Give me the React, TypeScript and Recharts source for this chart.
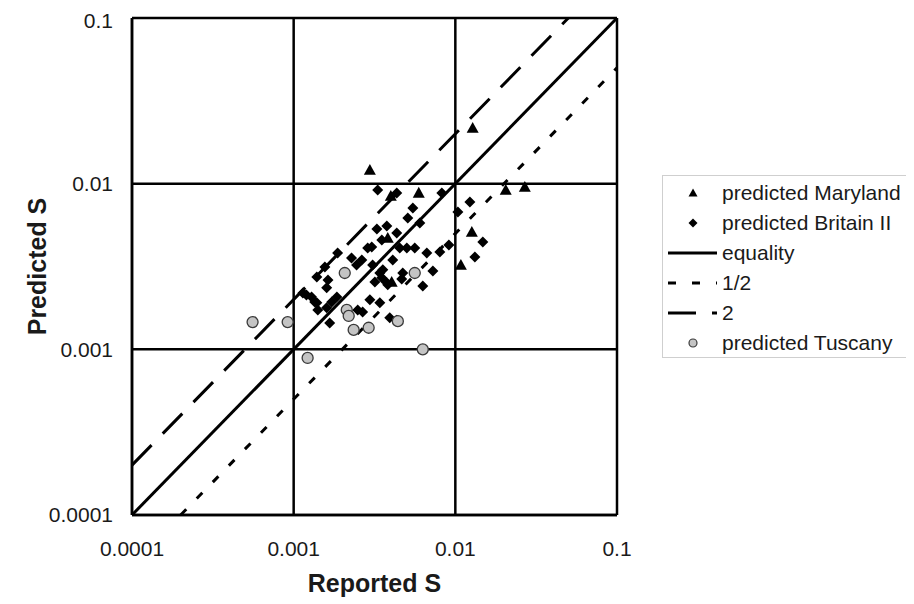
import React from "react";
import {
  ScatterChart,
  Scatter,
  XAxis,
  YAxis,
  CartesianGrid,
  ReferenceLine,
  Legend,
} from "recharts";

// ---------- data ----------
const AXIS_TICKS = [0.0001, 0.001, 0.01, 0.1];
const TICK_LABELS = ["0.0001", "0.001", "0.01", "0.1"];

const MARYLAND_X = [0.00296, 0.0128, 0.00594, 0.00399, 0.01265, 0.01082, 0.0205, 0.0269, 0.00382, 0.00404];
const MARYLAND_Y = [0.0121, 0.0217, 0.0088, 0.00843, 0.00511, 0.00323, 0.00917, 0.00955, 0.0047, 0.00255];

const BRITAIN_X = [
  0.00331, 0.00434, 0.00327, 0.00377, 0.00434, 0.00187, 0.00287, 0.00825, 0.00546, 0.00508,
  0.00603, 0.0123, 0.01037, 0.01479, 0.00453, 0.00501, 0.00561, 0.00666, 0.00802, 0.00912,
  0.01321, 0.00473, 0.00466, 0.00726, 0.00629, 0.00156, 0.00139, 0.00163, 0.00245, 0.00264,
  0.00308, 0.00341, 0.00318, 0.00377, 0.0041, 0.00114, 0.00129, 0.00139, 0.00141, 0.0016,
  0.00172, 0.00185, 0.00296, 0.00341, 0.00167, 0.00249, 0.00267, 0.00393, 0.00434, 0.00228,
  0.00351, 0.00304, 0.00356, 0.00351, 0.00382, 0.0016, 0.0012, 0.00135,
];
const BRITAIN_Y = [
  0.00916, 0.00879, 0.00533, 0.00556, 0.00504, 0.00382, 0.00409, 0.00879, 0.00714, 0.00621,
  0.00579, 0.00776, 0.00675, 0.00445, 0.00409, 0.00409, 0.00409, 0.00382, 0.00387, 0.00427,
  0.00361, 0.00289, 0.00266, 0.00297, 0.00241, 0.00314, 0.00273, 0.00262, 0.00323, 0.00346,
  0.00323, 0.00289, 0.00255, 0.00252, 0.00346, 0.00219, 0.00207, 0.00191, 0.00173, 0.00178,
  0.00193, 0.00207, 0.00199, 0.00191, 0.00144, 0.00173, 0.00168, 0.00155, 0.0015, 0.00356,
  0.00457, 0.00415, 0.00302, 0.0027, 0.00245, 0.00235, 0.00213, 0.00193,
];

const TUSCANY_X = [0.000557, 0.000918, 0.00207, 0.00213, 0.00219, 0.00235, 0.00291, 0.00441, 0.00561, 0.00629, 0.00122];
const TUSCANY_Y = [0.00146, 0.00146, 0.00289, 0.00173, 0.00159, 0.00131, 0.00135, 0.00148, 0.00289, 0.001, 0.000887];

const EQUALITY_LINE = [
  { x: 0.0001, y: 0.0001 },
  { x: 0.1, y: 0.1 },
];
const HALF_LINE = [
  { x: 0.0002, y: 0.0001 },
  { x: 0.1, y: 0.05 },
];
const DOUBLE_LINE = [
  { x: 0.0001, y: 0.0002 },
  { x: 0.05, y: 0.1 },
];

const LEGEND_LABELS = ["predicted Maryland", "predicted Britain II", "equality", "1/2", "2", "predicted Tuscany"];

const zip = (xs: number[], ys: number[]) => xs.map((x, i) => ({ x, y: ys[i] }));
const marylandData = zip(MARYLAND_X, MARYLAND_Y);
const britainData = zip(BRITAIN_X, BRITAIN_Y);
const tuscanyData = zip(TUSCANY_X, TUSCANY_Y);

// ---------- styles ----------
const FONT = "'Liberation Sans', Arial, sans-serif";
const SHORT_DASH = "8 15";
const LONG_DASH = "28 16";
const LINE_W = 3;

const Triangle = (props: any) => {
  const { cx, cy } = props;
  if (cx == null || cy == null) return null;
  const s = 6;
  return <path d={`M${cx},${cy - s} L${cx + s},${cy + s * 0.8} L${cx - s},${cy + s * 0.8} Z`} fill="#000" />;
};
const Diamond = (props: any) => {
  const { cx, cy } = props;
  if (cx == null || cy == null) return null;
  const s = 5.5;
  return <path d={`M${cx},${cy - s} L${cx + s},${cy} L${cx},${cy + s} L${cx - s},${cy} Z`} fill="#000" />;
};
const Dot = (props: any) => {
  const { cx, cy } = props;
  if (cx == null || cy == null) return null;
  return <circle cx={cx} cy={cy} r={5.5} fill="#c4c4c4" stroke="#3a3a3a" strokeWidth={1.3} />;
};

const LegendIcon = ({ kind }: { kind: number }) => {
  const w = 56;
  const h = 30;
  const cy = h / 2;
  let el: React.ReactNode = null;
  if (kind === 0) el = <path d={`M30,${cy - 4.5} L34.5,${cy + 3.5} L25.5,${cy + 3.5} Z`} fill="#000" />;
  if (kind === 1) el = <path d={`M30,${cy - 4.5} L34.5,${cy} L30,${cy + 4.5} L25.5,${cy} Z`} fill="#000" />;
  if (kind === 2) el = <line x1={5} x2={54} y1={cy} y2={cy} stroke="#000" strokeWidth={LINE_W} />;
  if (kind === 3) el = <line x1={5} x2={54} y1={cy} y2={cy} stroke="#000" strokeWidth={LINE_W} strokeDasharray="8 16" />;
  if (kind === 4) el = <line x1={5} x2={54} y1={cy} y2={cy} stroke="#000" strokeWidth={LINE_W} strokeDasharray="28 16" />;
  if (kind === 5) el = <circle cx={30} cy={cy} r={4} fill="#c4c4c4" stroke="#3a3a3a" strokeWidth={1.2} />;
  return (
    <svg width={w} height={h} style={{ display: "block", flex: "none" }}>
      {el}
    </svg>
  );
};

const LegendContent = () => (
  <div
    style={{
      border: "1.5px solid #cfcfcf",
      boxSizing: "border-box",
      width: 252,
      height: 183,
      padding: "2px 0 0 0",
      background: "#fff",
      fontFamily: FONT,
      fontSize: 21,
      color: "#1a1a1a",
    }}
  >
    {LEGEND_LABELS.map((label, i) => (
      <div key={label} style={{ display: "flex", alignItems: "center", height: 30 }}>
        <LegendIcon kind={i} />
        <span style={{ marginLeft: 3, whiteSpace: "nowrap", lineHeight: "30px" }}>{label}</span>
      </div>
    ))}
  </div>
);

const XLabel = (props: any) => {
  const vb = props.viewBox || {};
  return (
    <text
      x={vb.x + vb.width / 2}
      y={vb.y + 77}
      textAnchor="middle"
      fontFamily={FONT}
      fontWeight="bold"
      fontSize={25}
      fill="#1a1a1a"
    >
      Reported S
    </text>
  );
};

const YLabel = (props: any) => {
  const vb = props.viewBox || {};
  const cx = 29;
  const cy = vb.y + vb.height / 2;
  return (
    <text
      x={cx}
      y={cy}
      transform={`rotate(-90, ${cx}, ${cy})`}
      textAnchor="middle"
      dominantBaseline="central"
      fontFamily={FONT}
      fontWeight="bold"
      fontSize={25}
      fill="#1a1a1a"
    >
      Predicted S
    </text>
  );
};

const tickStyle = { fontFamily: FONT, fontSize: 21, fill: "#1a1a1a" };

export default function App() {
  return (
    <ScatterChart width={906} height={596} margin={{ top: 10, right: 297, bottom: 0, left: 0 }}>
      <CartesianGrid stroke="#000" strokeWidth={2.5} strokeDasharray="" />
      <XAxis
        type="number"
        dataKey="x"
        scale="log"
        domain={[0.0001, 0.1]}
        ticks={AXIS_TICKS}
        allowDataOverflow
        tickFormatter={(v: number) => TICK_LABELS[AXIS_TICKS.indexOf(v)] ?? String(v)}
        tick={tickStyle}
        tickLine={false}
        tickMargin={20}
        axisLine={{ stroke: "#000", strokeWidth: 2.5 }}
        height={89}
        label={<XLabel />}
      />
      <YAxis
        type="number"
        dataKey="y"
        scale="log"
        domain={[0.0001, 0.1]}
        ticks={AXIS_TICKS}
        allowDataOverflow
        tickFormatter={(v: number) => TICK_LABELS[AXIS_TICKS.indexOf(v)] ?? String(v)}
        tick={tickStyle}
        tickLine={false}
        tickMargin={13}
        axisLine={{ stroke: "#000", strokeWidth: 2.5 }}
        width={124}
        label={<YLabel />}
      />
      <ReferenceLine segment={EQUALITY_LINE} stroke="#000" strokeWidth={LINE_W} ifOverflow="visible" />
      <ReferenceLine segment={HALF_LINE} stroke="#000" strokeWidth={LINE_W} strokeDasharray={SHORT_DASH} ifOverflow="visible" />
      <ReferenceLine segment={DOUBLE_LINE} stroke="#000" strokeWidth={LINE_W} strokeDasharray={LONG_DASH} ifOverflow="visible" />
      <Scatter name={LEGEND_LABELS[0]} data={marylandData} shape={<Triangle />} isAnimationActive={false} />
      <Scatter name={LEGEND_LABELS[1]} data={britainData} shape={<Diamond />} isAnimationActive={false} />
      <Scatter name={LEGEND_LABELS[5]} data={tuscanyData} shape={<Dot />} isAnimationActive={false} />
      <Legend
        layout="vertical"
        align="center"
        verticalAlign="middle"
        content={<LegendContent />}
        wrapperStyle={{ left: 654, top: 167, width: 252, height: 183 }}
      />
    </ScatterChart>
  );
}
